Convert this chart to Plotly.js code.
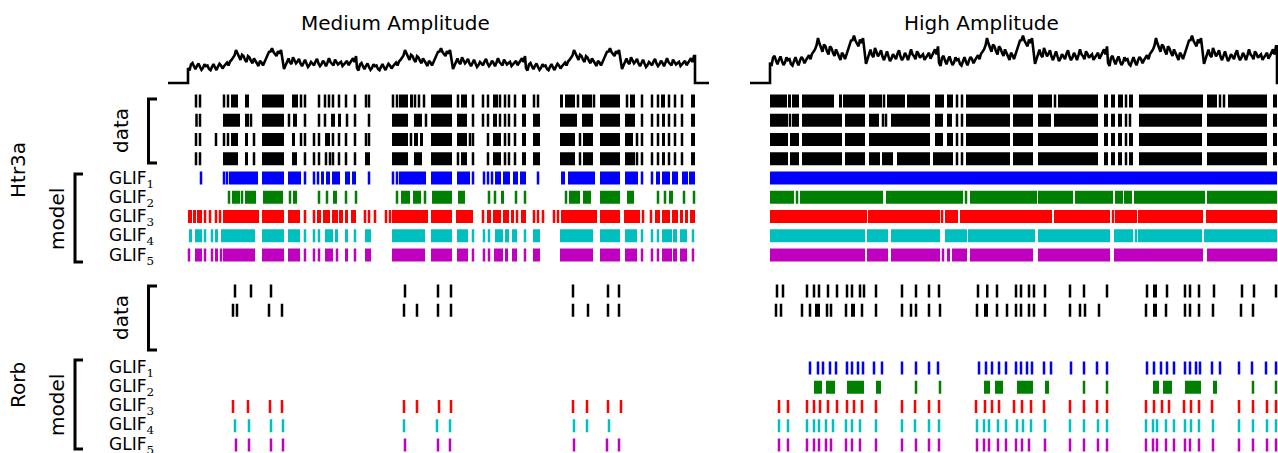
<!DOCTYPE html>
<html><head><meta charset="utf-8">
<script src="https://cdn.plot.ly/plotly-3.0.1.min.js"></script>
<style>html,body{margin:0;padding:0;background:#fff}#chart{width:1278px;height:453px}</style>
</head><body><div id="chart"></div>
<script>
// ---------------- DATA (times in s from stimulus onset) ----------------
// one 3.38 s noise snippet (repeated 3x in each stimulus), sampled every 0.03 s
const stimDt = 0.03;
const stimPeriod = 3.38;
const stimDuration = 10.14;
const stimSnippet = [15.0,12.5,18.6,20.0,16.5,13.8,17.2,19.5,16.0,13.2,15.1,18.8,16.8,17.5,14.0,12.8,16.1,19.0,15.5,13.0,
  16.5,19.2,17.6,14.5,16.8,19.0,20.4,17.5,21.5,23.0,24.7,27.5,33.0,29.0,25.8,23.0,28.3,27.0,23.3,21.0,
  26.9,25.5,22.2,19.8,24.7,22.5,19.7,17.0,22.2,20.5,17.6,21.0,26.0,28.0,31.2,31.5,34.8,31.0,28.3,27.0,
  31.9,29.5,33.0,24.0,14.0,17.5,22.2,24.5,20.4,19.0,25.8,23.0,19.7,21.5,24.0,19.5,16.8,20.0,23.3,19.5,
  16.1,18.0,21.1,19.5,17.6,21.5,24.0,19.5,16.8,18.8,22.2,20.0,16.8,20.5,24.7,21.0,19.7,17.5,23.3,21.5,
  18.6,20.0,21.1,17.0,18.6,20.5,22.2,17.8,20.4,22.5,24.7,21.0,26.9];
const ampMedium = 1.0;
const ampHigh = 1.36;

// ---- Htr3a, medium amplitude (number = spike, [a,b] = dense burst) ----
const medHtrData1 = [0.16,0.24,0.72,0.80,[0.86,1.00],[1.14,1.22],[1.48,1.92],[2.08,2.20],2.26,2.34,2.62,2.74,2.82,2.90,3.02,3.16,3.34,
  3.56,3.62,4.10,4.18,[4.22,4.40],[4.44,4.50],4.54,4.62,4.72,[4.86,5.28],5.40,[5.46,5.58],5.70,5.90,6.00,[6.10,6.20],6.24,6.34,6.42,6.54,[6.68,6.76],
  6.92,7.00,[7.44,7.50],[7.54,7.74],7.80,[7.88,8.08],8.12,[8.24,8.64],8.78,[8.84,8.94],9.08,9.28,9.40,[9.46,9.54],9.62,9.74,9.88,[10.06,10.14]];
const medHtrData2 = [0.17,0.24,[0.70,1.04],[1.14,1.22],1.26,[1.48,1.92],2.02,[2.10,2.18],2.34,2.62,2.74,[2.86,2.94],[3.00,3.06],3.18,3.34,
  3.62,[4.08,4.40],[4.52,4.68],4.76,[4.86,5.28],[5.38,5.58],5.70,5.90,6.00,[6.10,6.18],6.24,6.34,6.42,6.54,[6.68,6.76],
  [6.90,7.04],[7.44,7.78],[7.88,8.10],[8.24,8.64],[8.74,8.94],9.08,9.28,9.40,[9.48,9.54],9.62,9.74,9.88,[10.06,10.14]];
const medHtrData3 = [0.16,0.24,0.56,0.72,0.80,[0.86,1.00],[1.14,1.20],1.32,[1.48,1.92],[2.08,2.14],2.26,2.34,2.52,2.62,[2.74,2.84],2.90,3.02,3.16,3.34,
  3.56,3.62,[4.08,4.40],4.46,[4.52,4.60],[4.64,4.70],[4.86,5.28],[5.38,5.58],5.64,5.70,6.00,[6.10,6.26],6.34,6.42,6.54,[6.68,6.76],
  [6.90,7.04],[7.44,7.74],7.84,[7.90,8.10],[8.24,8.64],[8.74,8.90],8.98,9.08,9.28,9.40,[9.48,9.54],9.62,9.74,9.88,[10.06,10.14]];
const medHtrData4 = [0.16,0.24,[0.70,1.00],[1.14,1.20],1.32,[1.48,1.92],[2.08,2.18],2.34,2.52,2.62,2.76,2.84,2.90,3.02,3.16,3.34,
  [3.54,3.64],[4.08,4.40],[4.52,4.68],[4.86,5.28],5.40,[5.46,5.58],5.70,6.00,[6.10,6.26],6.34,6.42,6.54,[6.68,6.76],
  [6.90,7.04],[7.44,7.74],7.84,[7.90,8.10],[8.24,8.64],[8.74,8.94],8.98,9.08,9.28,9.40,[9.48,9.54],9.62,9.74,9.88,[10.06,10.14]];
const medHtrGlif1 = [0.26,0.72,0.78,[0.82,1.40],[1.48,1.92],[2.00,2.26],2.34,2.52,2.60,[2.66,2.72],[2.76,2.84],[2.88,3.04],[3.14,3.24],[3.28,3.36],
  3.62,4.10,4.18,[4.22,4.76],[4.86,5.28],[5.38,5.64],5.70,5.92,6.00,6.08,[6.14,6.26],[6.30,6.44],[6.50,6.60],[6.64,6.76],
  7.00,[7.46,7.54],[7.60,8.14],[8.24,8.64],[8.74,9.00],9.08,9.28,[9.36,9.44],[9.48,9.64],[9.68,9.80],[9.88,10.00],[10.02,10.14]];
const medHtrGlif2 = [0.82,[0.88,1.04],1.08,[1.14,1.36],[1.50,1.90],2.04,[2.10,2.18],2.62,2.78,[2.90,2.98],3.16,3.36,
  4.18,[4.26,4.44],[4.50,4.66],4.74,[4.88,5.28],[5.40,5.54],6.02,6.14,[6.26,6.32],6.56,6.74,
  7.56,[7.62,7.84],[7.90,8.06],[8.24,8.64],[8.78,8.92],9.40,9.54,[9.62,9.70],9.92,10.12];
const medHtrGlif3 = [[0.00,0.08],[0.10,0.16],[0.18,0.28],0.34,0.44,0.56,0.64,[0.70,1.42],[1.48,1.92],[2.00,2.24],2.34,2.52,[2.58,2.66],[2.70,2.84],[2.88,3.00],[3.02,3.10],[3.14,3.20],[3.26,3.36],
  3.54,3.62,3.74,3.96,4.04,[4.08,4.80],[4.86,5.28],[5.36,5.70],5.90,[5.98,6.06],[6.10,6.26],[6.30,6.42],[6.46,6.52],6.58,[6.66,6.76],
  6.92,7.00,7.10,7.32,7.40,[7.46,8.18],[8.24,8.64],[8.72,9.04],9.10,9.26,[9.34,9.44],[9.48,9.64],[9.68,9.80],[9.84,9.90],[9.94,10.00],[10.04,10.14]];
const medHtrGlif4 = [[0.02,0.08],[0.14,0.28],0.34,0.48,[0.54,0.60],[0.66,1.34],[1.48,1.92],[2.00,2.24],2.34,2.52,2.62,[2.74,2.90],[2.94,3.00],[3.14,3.20],3.34,
  [3.54,3.66],[4.08,4.74],[4.86,5.28],[5.38,5.60],5.70,5.92,6.02,[6.14,6.30],[6.34,6.42],[6.48,6.58],6.74,
  [6.90,7.04],[7.44,8.10],[8.24,8.64],[8.74,8.98],9.08,9.28,9.40,[9.48,9.68],[9.70,9.78],[9.84,9.98],10.10];
const medHtrGlif5 = [0.02,[0.14,0.28],0.34,0.48,[0.54,0.60],0.66,[0.70,1.34],[1.48,1.92],[2.00,2.24],2.34,2.52,2.62,[2.74,2.90],2.98,[3.14,3.20],3.34,
  [3.54,3.66],[4.08,4.74],[4.86,5.28],[5.38,5.60],5.70,5.92,6.02,[6.12,6.30],[6.34,6.40],[6.48,6.58],6.74,
  [6.90,7.04],[7.44,8.10],[8.24,8.64],[8.74,8.98],9.08,9.28,9.40,[9.48,9.68],[9.70,9.78],[9.84,9.98],10.10];

// ---- Htr3a, high amplitude ----
const highHtrData1 = [[0,0.34],[0.36,0.42],[0.44,0.58],[0.64,1.28],[1.38,1.44],[1.46,1.90],[1.98,2.24],2.28,[2.34,2.70],[2.74,3.20],[3.30,3.48],[3.54,3.66],3.74,3.84,
  [3.92,4.80],[4.86,5.26],[5.36,5.64],5.70,[5.76,6.56],[6.68,6.76],[6.82,6.90],[6.96,7.06],7.12,[7.18,7.26],[7.38,8.66],[8.74,8.94],9.00,9.08,[9.16,9.94],[10.06,10.14]];
const highHtrData2 = [[0,0.36],0.40,[0.44,0.58],[0.64,1.44],[1.50,1.90],[1.98,2.18],2.26,2.32,[2.42,3.20],[3.30,3.46],[3.54,3.64],3.74,3.84,
  [3.92,4.80],[4.86,5.26],[5.36,5.62],[5.68,6.56],[6.68,6.76],[6.82,6.90],[6.96,7.04],7.12,7.20,[7.38,8.64],[8.74,9.94],[10.06,10.14]];
const highHtrData3 = [[0,0.36],[0.40,0.58],[0.64,1.44],[1.50,1.90],[1.98,3.20],[3.30,3.46],[3.54,3.66],3.74,3.84,
  [3.92,4.80],[4.86,5.26],[5.36,6.56],[6.68,6.76],[6.82,6.90],[6.96,7.04],7.12,[7.18,7.26],[7.38,8.64],[8.74,9.94],[10.06,10.14]];
const highHtrData4 = [[0,0.36],[0.40,0.58],[0.64,1.44],[1.50,1.90],[1.98,2.20],[2.24,2.46],[2.54,3.20],[3.26,3.66],3.74,3.84,
  [3.92,4.80],[4.86,5.26],[5.36,6.56],[6.68,6.76],[6.82,6.90],[6.96,7.04],7.12,[7.18,7.26],[7.38,8.64],[8.74,9.94],[10.06,10.14]];
const highHtrGlif1 = [[0,10.14]];
const highHtrGlif2 = [[0,0.48],0.54,[0.60,2.26],[2.32,3.86],3.92,[4.00,5.34],[5.36,6.06],[6.10,6.86],[6.90,7.06],[7.08,7.24],[7.28,8.70],[8.74,10.14]];
const highHtrGlif3 = [[0,1.94],[1.96,3.40],3.44,[3.50,3.76],[3.80,5.64],[5.68,6.80],6.86,[6.90,7.34],[7.36,8.66],[8.72,10.14]];
const highHtrGlif4 = [[0,1.90],[1.94,2.36],[2.42,3.40],[3.50,3.94],[3.96,5.30],[5.36,6.80],[6.88,7.26],7.32,[7.36,8.64],[8.68,10.14]];
const highHtrGlif5 = [[0,1.90],[1.94,2.36],[2.42,3.40],3.46,[3.54,3.60],[3.64,3.94],[4.00,5.26],[5.36,6.80],[6.88,8.66],[8.74,10.14]];

// ---- Rorb, medium amplitude ----
const medRorbData1 = [0.94,1.26,1.66,4.34,5.00,5.26,7.70,8.40,8.62];
const medRorbData2 = [0.90,0.98,1.62,1.88,4.32,4.58,5.00,5.26,7.70,8.00,8.40,8.62];
const medRorbGlif1 = [];
const medRorbGlif2 = [];
const medRorbGlif3 = [0.90,1.20,1.64,1.88,4.32,4.58,5.02,5.26,7.70,7.98,8.40,8.66];
const medRorbGlif4 = [0.94,1.22,1.66,1.90,4.32,4.98,5.24,7.72,7.98,8.42];
const medRorbGlif5 = [0.96,1.22,1.66,1.90,4.34,5.00,5.24,7.72,8.38,8.62];

// ---- Rorb, high amplitude ----
const highRorbData1 = [0.14,0.26,0.74,0.88,0.98,1.16,1.34,1.54,1.64,1.80,1.88,2.12,2.64,2.92,3.18,3.38,4.16,[4.32,4.36],4.54,4.92,5.02,5.18,5.28,5.50,6.00,6.28,6.74,
  7.54,[7.66,7.74],7.94,8.30,8.40,8.58,8.88,9.44,9.68,10.12];
const highRorbData2 = [0.12,0.22,0.64,0.80,[0.90,1.00],1.14,1.22,1.52,[1.62,1.70],1.84,2.12,2.64,2.82,2.92,3.18,3.40,4.14,[4.28,4.36],4.54,4.74,4.92,5.02,5.18,5.28,5.50,
  6.00,6.20,6.30,6.58,7.52,[7.66,7.74],7.92,8.30,8.40,8.58,8.86,9.42,9.66];
const highRorbGlif1 = [0.80,0.96,1.06,1.20,1.32,1.54,1.64,1.76,1.86,2.08,2.24,2.64,2.92,3.18,3.36,4.18,4.32,4.44,4.58,4.72,4.92,5.02,5.14,5.24,5.48,5.62,6.02,6.28,6.54,6.74,
  7.54,7.68,7.82,7.94,8.08,8.30,8.40,8.52,8.60,8.84,9.00,9.38,9.64,9.92,10.12];
const highRorbGlif2 = [[0.88,1.04],[1.12,1.30],[1.54,1.88],[2.12,2.22],2.92,3.40,[4.28,4.40],[4.50,4.66],[4.94,5.26],[5.50,5.58],6.28,6.74,
  [7.66,7.78],[7.86,8.04],[8.30,8.62],[8.86,8.94],9.66,10.12];
const highRorbGlif3 = [0.18,0.36,0.74,0.88,1.00,1.16,1.34,1.54,1.68,1.84,2.12,2.64,2.90,3.18,3.38,4.12,4.30,4.44,4.58,4.88,5.04,5.22,5.48,6.00,6.28,6.54,6.74,
  7.52,7.68,7.84,7.98,8.28,8.42,8.58,8.84,9.38,9.66,9.94,10.12];
const highRorbGlif4 = [0.18,0.36,0.74,0.88,0.98,1.12,1.26,1.52,1.64,1.80,2.12,2.64,2.90,3.18,3.38,4.14,4.28,4.38,4.56,4.72,4.94,5.06,5.22,5.50,6.00,6.28,6.56,6.74,
  7.52,7.66,7.74,7.92,8.08,8.30,8.42,8.58,8.86,9.38,9.66,9.94,10.12];
const highRorbGlif5 = [0.18,0.36,0.74,0.88,0.98,1.12,1.22,1.52,1.64,1.80,2.12,2.64,2.92,3.18,3.38,4.14,4.28,4.38,4.56,4.72,4.92,5.04,5.18,5.50,6.00,6.28,6.56,6.74,
  7.52,7.66,7.74,7.92,8.08,8.30,8.40,8.58,8.86,9.38,9.66,9.94,10.12];

const rowColors = ['#000000','#000000','#000000','#000000','#0000ff','#008000','#ff0000','#00bfbf','#bf00bf'];
const glifIndex = ['1','2','3','4','5'];
const panelTitles = ['Medium Amplitude','High Amplitude'];
const cellTypes = ['Htr3a','Rorb'];

// ---------------- LAYOUT CONSTANTS ----------------
const W = 1278, H = 453;
const FONT = 'DejaVu Sans, Liberation Sans, sans-serif';
const SPIKE_W = 0.05;   // drawn width of one spike (s)
const BAR_H = 0.68;     // spike height in row units
const ROW_PX = 19.25;
const HTR_ROW0 = 101, RORB_ROW0 = 291;
const px = x => x / W;
const py = y => 1 - y / H;

const empty = [];
const medHtr  = [medHtrData1, medHtrData2, medHtrData3, medHtrData4, medHtrGlif1, medHtrGlif2, medHtrGlif3, medHtrGlif4, medHtrGlif5];
const highHtr = [highHtrData1, highHtrData2, highHtrData3, highHtrData4, highHtrGlif1, highHtrGlif2, highHtrGlif3, highHtrGlif4, highHtrGlif5];
const medRorb = [medRorbData1, medRorbData2, empty, empty, medRorbGlif1, medRorbGlif2, medRorbGlif3, medRorbGlif4, medRorbGlif5];
const highRorb= [highRorbData1, highRorbData2, empty, empty, highRorbGlif1, highRorbGlif2, highRorbGlif3, highRorbGlif4, highRorbGlif5];

function spikeBars(row, idx, color, xa, ya) {
  const base = [], len = [], ys = [];
  row.forEach(e => {
    if (Array.isArray(e)) { base.push(e[0]); len.push(Math.max(e[1] - e[0], SPIKE_W)); }
    else { base.push(e - SPIKE_W / 2); len.push(SPIKE_W); }
    ys.push(idx);
  });
  return {type:'bar', orientation:'h', x:len, base:base, y:ys, width:BAR_H,
    marker:{color:color, line:{width:0}}, opacity:1, xaxis:xa, yaxis:ya, hoverinfo:'skip', showlegend:false};
}

function stimTrace(amp, xa) {
  const xs = [-0.4, 0], ys = [0, 0];
  for (let k = 0; k < 3; k++) {
    stimSnippet.forEach((v, i) => { xs.push(k * stimPeriod + i * stimDt); ys.push(v * amp); });
  }
  xs.push(stimDuration, stimDuration, stimDuration + 0.28);
  ys.push(ys[ys.length - 1], 0, 0);
  return {type:'scatter', mode:'lines', x:xs, y:ys, line:{color:'#000', width:2.6}, xaxis:xa, yaxis:'y', hoverinfo:'skip', showlegend:false};
}

const traces = [stimTrace(ampMedium, 'x'), stimTrace(ampHigh, 'x2')];
[[medHtr,'x','y2'],[highHtr,'x2','y2'],[medRorb,'x','y3'],[highRorb,'x2','y3']].forEach(([rows, xa, ya]) => {
  rows.forEach((r, i) => traces.push(spikeBars(r, i, rowColors[i], xa, ya)));
});

const hidden = {showgrid:false, zeroline:false, showline:false, showticklabels:false, ticks:'', fixedrange:true};
const htrTop = HTR_ROW0 - ROW_PX / 2, htrBot = HTR_ROW0 + 8 * ROW_PX + ROW_PX / 2;
const rorbTop = RORB_ROW0 - ROW_PX / 2;

function ann(text, x, y, size, extra) {
  return Object.assign({text:text, x:px(x), y:py(y), xref:'paper', yref:'paper', showarrow:false,
    font:{family:FONT, size:size, color:'#000'}, xanchor:'center', yanchor:'middle'}, extra || {});
}
const annotations = [
  ann(panelTitles[0], 396, 23, 20), ann(panelTitles[1], 981, 23, 20),
  ann(cellTypes[0], 18, 170, 20, {textangle:-90}), ann(cellTypes[1], 18, 385, 20, {textangle:-90}),
  ann('data', 121, 131, 20, {textangle:-90}), ann('model', 57, 219, 20, {textangle:-90}),
  ann('data', 121, 318, 20, {textangle:-90}), ann('model', 57, 405, 20, {textangle:-90})
];
glifIndex.forEach((n, i) => {
  const t = 'GLIF<sub><span style="font-family:DejaVu Serif">' + n + '</span></sub>';
  annotations.push(ann(t, 107, HTR_ROW0 + (4 + i) * ROW_PX + 1, 17, {xanchor:'left'}));
  annotations.push(ann(t, 107, RORB_ROW0 + (4 + i) * ROW_PX, 17, {xanchor:'left'}));
});

function bracket(x, yT, yB, xR) {
  return {type:'path', xref:'paper', yref:'paper',
    path:`M ${px(xR)},${py(yT)} L ${px(x)},${py(yT)} L ${px(x)},${py(yB)} L ${px(xR)},${py(yB)}`,
    line:{color:'#000', width:3}};
}
const shapes = [bracket(148.5, 99, 163, 157), bracket(75, 174, 262, 83),
                bracket(148.5, 286, 350, 157), bracket(75, 360, 449, 83)];

const layout = {
  width:W, height:H, margin:{l:0, r:0, t:0, b:0}, paper_bgcolor:'#fff', plot_bgcolor:'rgba(0,0,0,0)',
  showlegend:false, barmode:'overlay',
  xaxis: Object.assign({domain:[px(160), px(712)], range:[-0.56, 10.48], anchor:'y'}, hidden),
  xaxis2: Object.assign({domain:[px(745), 1], range:[-0.5, 10.16], anchor:'y'}, hidden),
  yaxis: Object.assign({domain:[py(88), py(28)], range:[-5, 55], anchor:'x'}, hidden),
  yaxis2: Object.assign({domain:[py(htrBot), py(htrTop)], range:[8.5, -0.5], anchor:'x'}, hidden),
  yaxis3: Object.assign({domain:[0, py(rorbTop)], range:[(H - RORB_ROW0) / ROW_PX, -0.5], anchor:'x'}, hidden),
  annotations:annotations, shapes:shapes
};
Plotly.newPlot('chart', traces, layout, {staticPlot:true, displayModeBar:false});
</script></body></html>
